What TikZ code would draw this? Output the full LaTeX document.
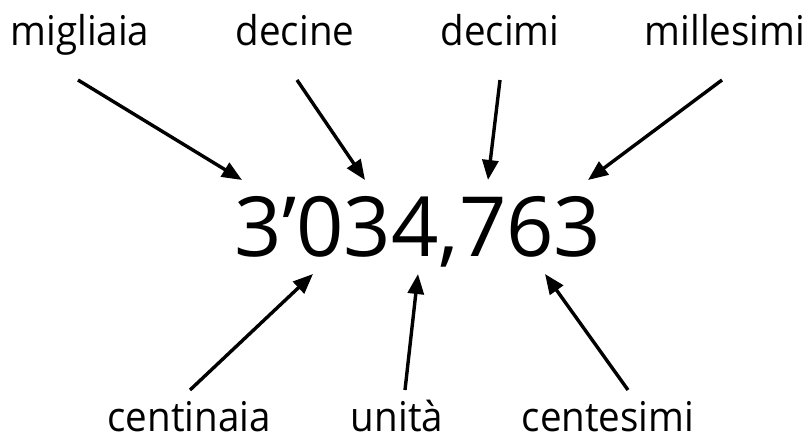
\documentclass[tikz,border=0pt]{standalone}
\usepackage{fontspec}
\setmainfont{Open Sans}
\newfontfamily\labelfont[FakeStretch=0.94]{Open Sans}
\usetikzlibrary{arrows.meta}
\begin{document}
\begin{tikzpicture}[x=1pt,y=-1pt,
  lbl/.style={anchor=base,inner sep=0pt,font=\labelfont\fontsize{41}{41}\selectfont},
  num/.style={anchor=base,inner sep=0pt,font=\fontsize{83}{83}\selectfont},
  pointer/.style={line width=3.4pt,-{Triangle[length=20pt,width=16pt]}}]
\useasboundingbox (0,0) rectangle (811,439);
% place-value names above and below the number
\node[lbl] (migliaia) at (80,45) {migliaia};
\node[lbl] (decine) at (295,45) {decine};
\node[lbl] (decimi) at (500,45) {decimi};
\node[lbl] (millesimi) at (725,45) {millesimi};
\node[lbl] (centinaia) at (189,431) {centinaia};
\node[lbl] (unita) at (397,431) {unità};
\node[lbl] (centesimi) at (608,431) {centesimi};
% the number itself
\node[num] (numero) at (418,256) {3’034,763};
% arrow ends
\coordinate (t1) at (78,80);   \coordinate (h1) at (242,180);
\coordinate (t2) at (297,80);  \coordinate (h2) at (365,180);
\coordinate (t3) at (500,80);  \coordinate (h3) at (488,180);
\coordinate (t4) at (722,80);  \coordinate (h4) at (588,180);
\coordinate (t5) at (190,390); \coordinate (h5) at (313,274);
\coordinate (t6) at (405,390); \coordinate (h6) at (418,274);
\coordinate (t7) at (628,390); \coordinate (h7) at (545,274);
\foreach \i in {1,...,7} \draw[pointer] (t\i) -- (h\i);
\end{tikzpicture}
\end{document}
